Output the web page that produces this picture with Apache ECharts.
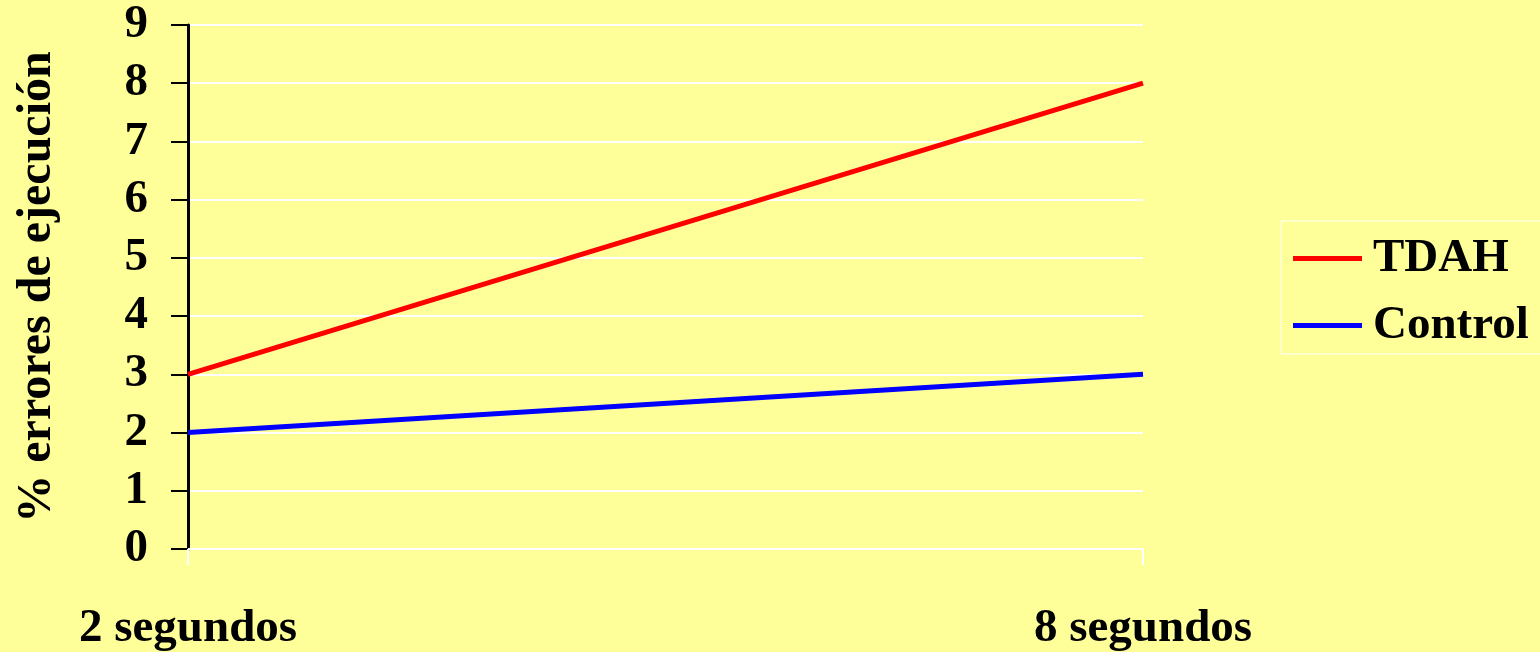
<!DOCTYPE html>
<html>
<head>
<meta charset="utf-8">
<script src="https://cdn.jsdelivr.net/npm/echarts@6/dist/echarts.min.js"></script>
<style>
  html, body { margin: 0; padding: 0; background: #ffff99; }
  #main { width: 1540px; height: 652px; }
</style>
</head>
<body>
<div id="main"></div>
<script>
var categories = ['2 segundos', '8 segundos'];
var tdah = [3, 8];
var control = [2, 3];
var yTicks = [0, 1, 2, 3, 4, 5, 6, 7, 8, 9];

var serif = '"Liberation Serif", "Times New Roman", serif';

var chartDom = document.getElementById('main');
var myChart = echarts.init(chartDom);
var option;

option = {
    backgroundColor: '#ffff99',
    animation: false,
    grid: {
        left: 188,
        right: 397,
        top: 25,
        bottom: 103,
        outerBoundsMode: 'none'
    },
    legend: {
        left: 1281,
        top: 221,
        orient: 'vertical',
        padding: [14, 12, 5, 12],
        borderColor: '#ffffff',
        borderWidth: 1,
        itemWidth: 69,
        itemHeight: 5,
        itemGap: 20,
        icon: 'rect',
        textStyle: {
            fontFamily: serif,
            fontWeight: 'bold',
            fontSize: 47,
            lineHeight: 40,
            color: '#000',
            padding: [0, 0, 0, 6]
        },
        data: ['TDAH', 'Control']
    },
    xAxis: {
        type: 'category',
        boundaryGap: false,
        data: categories,
        axisLine: { lineStyle: { color: '#ffffff', width: 2 } },
        axisTick: { show: true, length: 16, lineStyle: { color: '#ffffff', width: 2 } },
        axisLabel: {
            margin: 56,
            fontFamily: serif,
            fontWeight: 'bold',
            fontSize: 47,
            color: '#000'
        },
        splitLine: { show: false }
    },
    yAxis: {
        type: 'value',
        min: 0,
        max: 9,
        interval: 1,
        name: '% errores de ejecución',
        nameLocation: 'middle',
        nameGap: 126,
        nameTextStyle: {
            fontFamily: serif,
            fontWeight: 'bold',
            fontSize: 48,
            color: '#000'
        },
        axisLine: { show: true, lineStyle: { color: '#000', width: 3 } },
        axisTick: { show: true, length: 17, lineStyle: { color: '#000', width: 2 } },
        axisLabel: {
            margin: 40,
            fontFamily: serif,
            fontWeight: 'bold',
            fontSize: 47,
            color: '#000',
            formatter: function (v) { return yTicks.indexOf(v) >= 0 ? String(v) : ''; }
        },
        splitLine: { lineStyle: { color: '#ffffff', width: 2 } }
    },
    series: [
        {
            name: 'TDAH',
            type: 'line',
            data: tdah,
            symbol: 'none',
            color: '#ff0000',
            lineStyle: { color: '#ff0000', width: 5 }
        },
        {
            name: 'Control',
            type: 'line',
            data: control,
            symbol: 'none',
            color: '#0000ff',
            lineStyle: { color: '#0000ff', width: 5 }
        }
    ]
};

option && myChart.setOption(option);
</script>
</body>
</html>
